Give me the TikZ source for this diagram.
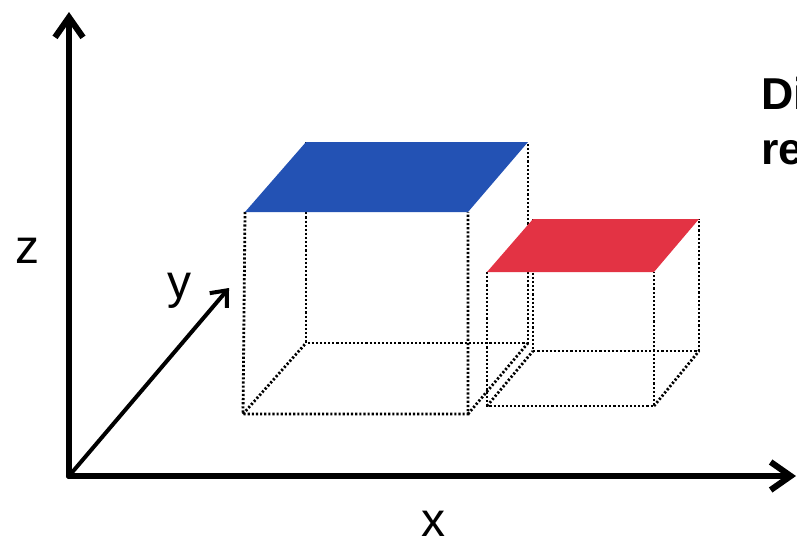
\documentclass[tikz,border=0pt]{standalone}
\usepackage{fontspec}
\setmainfont{Liberation Sans}
\usetikzlibrary{arrows.meta}
\definecolor{topblue}{HTML}{2352B4}
\definecolor{topred}{HTML}{E33344}
\tikzset{
  px/.style={x=0.75pt,y=-0.75pt},
  dots/.style={line width=2.1pt,dash pattern=on 1.6pt off 1.5pt,black},
  axis/.style={line width=4.6pt,black,-{Straight Barb[length=15pt,width=21pt,line width=4.6pt]}},
  axisthin/.style={line width=3pt,black,-{Straight Barb[length=10pt,width=17pt,line width=3pt]}},
  lab/.style={font=\fontsize{36pt}{40pt}\selectfont,inner sep=0pt,anchor=base,text=black},
  head/.style={font=\bfseries\fontsize{33.5pt}{40pt}\selectfont,inner sep=0pt,anchor=base west,text=black}
}
\begin{document}
\begin{tikzpicture}[px]
\useasboundingbox (0,0) rectangle (797,543);
\clip (0,0) rectangle (797,543);
% big box
\coordinate (Atfl) at (245,212); \coordinate (Atfr) at (468,212);
\coordinate (Atbr) at (528,142); \coordinate (Atbl) at (306,142);
\coordinate (Abfl) at (243,414); \coordinate (Abfr) at (468,414);
\coordinate (Abbr) at (528,343); \coordinate (Abbl) at (306,343);
% small box
\coordinate (Btfl) at (487,272); \coordinate (Btfr) at (654,272);
\coordinate (Btbr) at (699,219); \coordinate (Btbl) at (533,219);
\coordinate (Bbfl) at (487,406); \coordinate (Bbfr) at (654,406);
\coordinate (Bbbr) at (699,351); \coordinate (Bbbl) at (533,351);
% axes
\coordinate (O) at (69,476); \coordinate (Zend) at (69,12);
\coordinate (Xend) at (796,476); \coordinate (Yend) at (229,288);
\draw[dots] (Atfl)--(Abfl) -- (Abfr) -- (Atfr);
\draw[dots] (Atbl)--(Abbl) -- (Abbr) -- (Atbr);
\draw[dots] (Abfl)--(Abbl) (Abfr)--(Abbr);
\draw[dots] (Btfl)--(Bbfl) -- (Bbfr) -- (Btfr);
\draw[dots] (Btbl)--(Bbbl) -- (Bbbr) -- (Btbr);
\draw[dots] (Bbfl)--(Bbbl) (Bbfr)--(Bbbr);
\fill[topblue] (Atfl)--(Atfr)--(Atbr)--(Atbl)--cycle;
\fill[topred] (Btfl)--(Btfr)--(Btbr)--(Btbl)--cycle;
\draw[axis,line cap=round] (O)--(Zend);
\draw[axis,line cap=round] (O)--(Xend);
\draw[axisthin] (O)--(Yend);
\node[lab] (zl) at (28,263) {z};
\node[lab] (yl) at (179,298) {y};
\node[lab] (xl) at (433,536) {x};
\node[head] (h1) at (761,109) {Di};
\node[head] (h2) at (761,164) {re};
\end{tikzpicture}
\end{document}
